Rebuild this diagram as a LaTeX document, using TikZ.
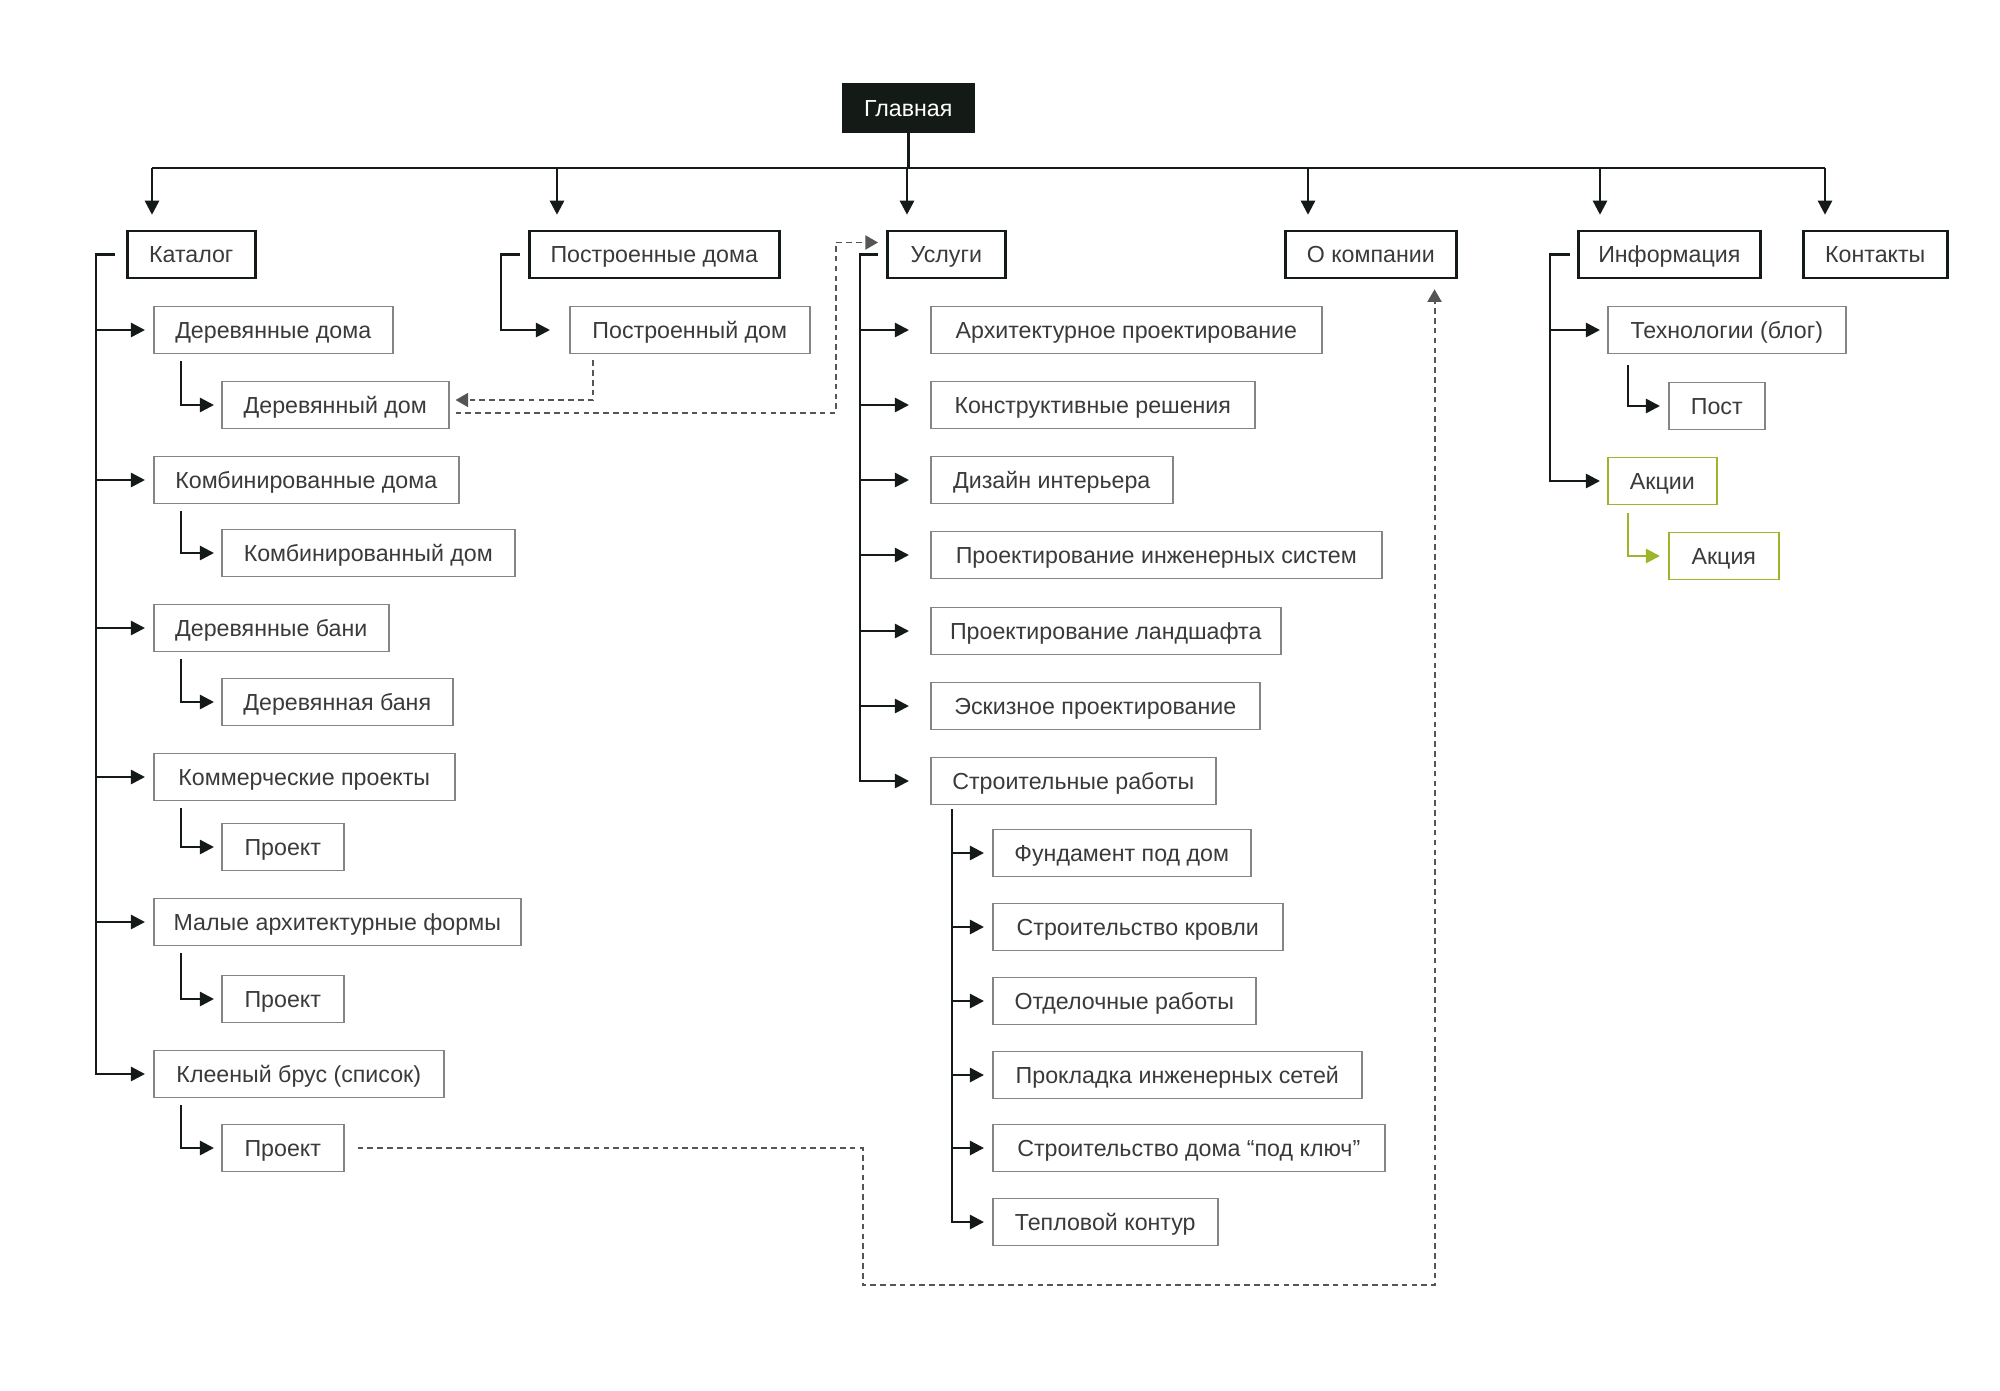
\documentclass[tikz,border=0pt]{standalone}
\usepackage{fontspec}
\setmainfont{Liberation Sans}
\usetikzlibrary{arrows.meta}
\definecolor{ink}{HTML}{141A16}
\definecolor{boxgray}{HTML}{858585}
\definecolor{txt}{HTML}{3A3A3A}
\definecolor{dgray}{HTML}{555555}
\definecolor{lime}{HTML}{9CB62A}
\def\pxl{0.025cm}
\tikzset{
	box/.style={draw=boxgray, line width=1.1pt, text=txt, anchor=west, inner xsep=0pt, minimum height=47*\pxl, text height=14pt, text depth=2.2pt, font=\fontsize{16.5}{20}\selectfont},
	topbox/.style={box, draw=ink, line width=1.8pt},
	greenbox/.style={box, draw=lime},
	bw/.style={minimum width=#1*\pxl},
	line/.style={draw=ink, line width=1.8pt},
	arr/.style={line, -{Triangle[length=10pt,width=10pt]}},
	link/.style={draw=dgray, line width=1.4pt, dash pattern=on 4pt off 3pt, -{Triangle[length=9pt,width=10pt]}}
}
\begin{document}
\begin{tikzpicture}[x=\pxl, y=-\pxl]
	\useasboundingbox (0,0) rectangle (2000,1390);
	%Top level
	\node[topbox, fill=ink, text=white, bw=130] (glav) at (842,108) {Главная};
	\node[topbox, bw=128] (katalog) at (126,254.5) {Каталог};
	\node[topbox, bw=250] (postr) at (528,254.5) {Построенные дома};
	\node[topbox, bw=118] (uslugi) at (886,254.5) {Услуги};
	\node[topbox, bw=171] (okomp) at (1284,254.5) {О компании};
	\node[topbox, bw=182] (info) at (1577,254.5) {Информация};
	\node[topbox, bw=144] (kont) at (1802,254.5) {Контакты};
	%Catalog
	\node[box, bw=239] (derdoma) at (153,330) {Деревянные дома};
	\node[box, bw=227] (derdom) at (221,405) {Деревянный дом};
	\node[box, bw=305] (kombdoma) at (153,480) {Комбинированные дома};
	\node[box, bw=293] (kombdom) at (221,553) {Комбинированный дом};
	\node[box, bw=235] (derbani) at (153,628) {Деревянные бани};
	\node[box, bw=231] (derbanya) at (221,702) {Деревянная баня};
	\node[box, bw=301] (kommer) at (153,777) {Коммерческие проекты};
	\node[box, bw=122] (proekta) at (221,847) {Проект};
	\node[box, bw=367] (malye) at (153,922) {Малые архитектурные формы};
	\node[box, bw=122] (proektb) at (221,999) {Проект};
	\node[box, bw=290] (klee) at (153,1074) {Клееный брус (список)};
	\node[box, bw=122] (proektc) at (221,1148) {Проект};
	%Built houses
	\node[box, bw=240] (postrdom) at (569,330) {Построенный дом};
	%Services
	\node[box, bw=391] (arch) at (930,330) {Архитектурное проектирование};
	\node[box, bw=324] (konstr) at (930,405) {Конструктивные решения};
	\node[box, bw=242] (dizain) at (930,480) {Дизайн интерьера};
	\node[box, bw=451] (inzh) at (930,555) {Проектирование инженерных систем};
	\node[box, bw=350] (landsh) at (930,631) {Проектирование ландшафта};
	\node[box, bw=329] (eskiz) at (930,706) {Эскизное проектирование};
	\node[box, bw=285] (stroit) at (930,781) {Строительные работы};
	\node[box, bw=258] (fund) at (992,853) {Фундамент под дом};
	\node[box, bw=290] (krovl) at (992,927) {Строительство кровли};
	\node[box, bw=263] (otdel) at (992,1001) {Отделочные работы};
	\node[box, bw=369] (prokl) at (992,1075) {Прокладка инженерных сетей};
	\node[box, bw=392] (podkl) at (992,1148) {Строительство дома “под ключ”};
	\node[box, bw=225] (teplo) at (992,1222) {Тепловой контур};
	%Information
	\node[box, bw=238] (tekh) at (1607,330) {Технологии (блог)};
	\node[box, bw=96] (post) at (1668,406) {Пост};
	\node[greenbox, bw=109] (akcii) at (1607,481) {Акции};
	\node[greenbox, bw=110] (akciya) at (1668,556) {Акция};

	%Bus
	\draw[line] (glav.south) -- ++(0,35) coordinate (bus);
	\foreach \n/\dx in {katalog/26,postr/29,uslugi/21,okomp/24,info/23,kont/23}{
		\coordinate (\n-in) at ([xshift=\dx*\pxl, yshift=15*\pxl]\n.north west);
		\draw[arr] (\n-in |- bus) -- (\n-in);
	}
	\draw[line] (katalog-in |- bus) -- (kont-in |- bus);

	%Catalog branches
	\coordinate (katbar) at ([xshift=-30*\pxl]katalog.west);
	\draw[arr] ([xshift=-11*\pxl]katalog.west) -- (katbar) |- ([xshift=-8*\pxl]klee.west);
	\foreach \c in {derdoma,kombdoma,derbani,kommer,malye}
		\draw[arr] (katbar |- \c.west) -- ([xshift=-8*\pxl]\c.west);
	\foreach \p/\c in {derdoma/derdom,kombdoma/kombdom,derbani/derbanya,kommer/proekta,malye/proektb,klee/proektc}
		\draw[arr] ([xshift=28*\pxl, yshift=-7*\pxl]\p.south west) |- ([xshift=-7*\pxl]\c.west);

	%Built houses branch
	\draw[arr] ([xshift=-8*\pxl]postr.west) -- ++(-19,0) |- ([xshift=-19*\pxl]postrdom.west);

	%Services branches
	\coordinate (usbar) at ([xshift=-26*\pxl]uslugi.west);
	\draw[arr] ([xshift=-8*\pxl]uslugi.west) -- (usbar) |- ([xshift=-21*\pxl]stroit.west);
	\foreach \c in {arch,konstr,dizain,inzh,landsh,eskiz}
		\draw[arr] (usbar |- \c.west) -- ([xshift=-21*\pxl]\c.west);
	\coordinate (stbar) at ([xshift=22*\pxl, yshift=-4*\pxl]stroit.south west);
	\draw[arr] (stbar) |- ([xshift=-8*\pxl]teplo.west);
	\foreach \c in {fund,krovl,otdel,prokl,podkl}
		\draw[arr] (stbar |- \c.west) -- ([xshift=-8*\pxl]\c.west);

	%Information branches
	\coordinate (infbar) at ([xshift=-27*\pxl]info.west);
	\draw[arr] ([xshift=-7*\pxl]info.west) -- (infbar) |- ([xshift=-7*\pxl]akcii.west);
	\draw[arr] (infbar |- tekh.west) -- ([xshift=-7*\pxl]tekh.west);
	\draw[arr] ([xshift=21*\pxl, yshift=-11*\pxl]tekh.south west) |- ([xshift=-8*\pxl]post.west);
	\draw[arr, draw=lime] ([xshift=21*\pxl, yshift=-8*\pxl]akcii.south west) |- ([xshift=-8*\pxl]akciya.west);

	%Cross links
	\draw[link] ([xshift=24*\pxl, yshift=-6*\pxl]postrdom.south west) |- ([xshift=6*\pxl, yshift=5*\pxl]derdom.east);
	\draw[link] ([xshift=6*\pxl, yshift=-8*\pxl]derdom.east) -- ++(380,0) |- ([xshift=-8*\pxl, yshift=12*\pxl]uslugi.west);
	\draw[link] ([xshift=13*\pxl]proektc.east) -- ++(505,0) -- ++(0,137) -| ([xshift=-23*\pxl, yshift=-10*\pxl]okomp.south east);
\end{tikzpicture}
\end{document}
